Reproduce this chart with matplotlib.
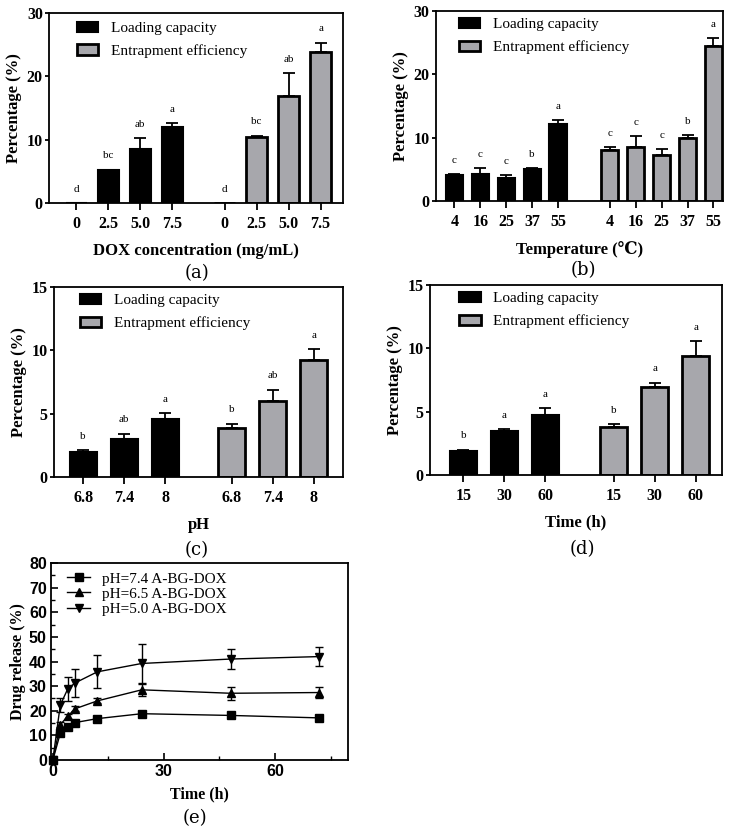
import matplotlib
matplotlib.use("Agg")
import matplotlib.pyplot as plt
import numpy as np

# ---- data ----
# (a) DOX concentration
dox_labels = ["0", "2.5", "5.0", "7.5"]
dox_lc = [0, 5.15, 8.45, 11.95]
dox_lc_err = [0, 0.1, 1.8, 0.65]
dox_lc_sig = ["d", "bc", "ab", "a"]
dox_ee = [0, 10.4, 16.9, 23.8]
dox_ee_err = [0, 0.25, 3.6, 1.5]
dox_ee_sig = ["d", "bc", "ab", "a"]

# (b) temperature
temp_labels = ["4", "16", "25", "37", "55"]
temp_lc = [4.1, 4.3, 3.7, 5.0, 12.2]
temp_lc_err = [0.15, 0.85, 0.4, 0.2, 0.6]
temp_lc_sig = ["c", "c", "c", "b", "a"]
temp_ee = [8.1, 8.5, 7.3, 9.9, 24.4]
temp_ee_err = [0.35, 1.7, 0.85, 0.5, 1.3]
temp_ee_sig = ["c", "c", "c", "b", "a"]

# (c) pH
ph_labels = ["6.8", "7.4", "8"]
ph_lc = [1.95, 3.0, 4.6]
ph_lc_err = [0.15, 0.42, 0.45]
ph_lc_sig = ["b", "ab", "a"]
ph_ee = [3.85, 6.0, 9.2]
ph_ee_err = [0.35, 0.9, 0.9]
ph_ee_sig = ["b", "ab", "a"]

# (d) time
time_labels = ["15", "30", "60"]
time_lc = [1.9, 3.47, 4.7]
time_lc_err = [0.1, 0.15, 0.58]
time_lc_sig = ["b", "a", "a"]
time_ee = [3.8, 6.95, 9.4]
time_ee_err = [0.23, 0.34, 1.15]
time_ee_sig = ["b", "a", "a"]

# (e) release
rel_time = [0, 2, 4, 6, 12, 24, 48, 72]
rel_74 = [0, 10.8, 13.3, 15.2, 16.8, 18.8, 18.1, 17.1]
rel_74_err = [0, 0.6, 0.6, 0.6, 0.6, 0.7, 0.6, 0.6]
rel_65 = [0, 14.3, 17.8, 20.8, 24.0, 28.5, 27.1, 27.4]
rel_65_err = [0, 1.0, 1.0, 1.0, 1.0, 2.5, 2.6, 2.1]
rel_50 = [0, 22.3, 28.8, 31.3, 35.8, 39.2, 41.0, 42.0]
rel_50_err = [0, 3.0, 5.0, 5.8, 6.7, 8.0, 3.9, 4.0]

SERIF = ["Liberation Serif", "DejaVu Serif"]
SANS = ["Liberation Sans", "DejaVu Sans"]
GREY = "#a7a7ac"

W, H = 733, 835


def px_axes(fig, left, top, right, bottom):
    # axes from pixel box (origin top-left)
    return fig.add_axes([left / W, 1 - bottom / H, (right - left) / W, (bottom - top) / H])


def bar_panel(ax, labels, lc, lc_err, lc_sig, ee, ee_err, ee_sig,
              gap, xlim, ymax, ystep, xlabel, legend_xy):
    n = len(labels)
    x1 = np.arange(n)
    x2 = x1 + (n - 1) + gap
    ax.bar(x1, lc, width=0.66, color="black", edgecolor="black", linewidth=1.5,
           label="Loading capacity", zorder=2)
    ax.bar(x2, ee, width=0.66, color=GREY, edgecolor="black", linewidth=2.0,
           label="Entrapment efficiency", zorder=2)

    for xs, vals, errs, sig in [(x1, lc, lc_err, lc_sig), (x2, ee, ee_err, ee_sig)]:
        vals = np.array(vals, dtype=float)
        errs = np.array(errs, dtype=float)
        keep = vals > 0
        ax.errorbar(xs[keep], vals[keep], yerr=[np.zeros(keep.sum()), errs[keep]],
                    fmt="none", ecolor="black", elinewidth=1.3, capsize=4,
                    capthick=1.3, zorder=1)
        for x, v, e, s in zip(xs, vals, errs, sig):
            ax.annotate(s, (x, v + e), xytext=(0, 10), textcoords="offset points",
                        ha="center", va="center", fontsize=8, family=SERIF)

    ax.set_xlim(*xlim)
    ax.set_ylim(0, ymax)
    ax.set_yticks(np.arange(0, ymax + 0.1, ystep))
    ax.set_xticks(np.concatenate([x1, x2]))
    ax.set_xticklabels(labels + labels)
    for lab in ax.get_xticklabels() + ax.get_yticklabels():
        lab.set_fontfamily(SERIF)
        lab.set_fontweight("bold")
        lab.set_fontsize(11.5)
    ax.tick_params(axis="x", direction="out", length=5, width=1.3, pad=4)
    ax.tick_params(axis="y", direction="out", length=3, width=1.3, pad=1.5)
    for sp in ax.spines.values():
        sp.set_linewidth(1.3)
    ax.set_ylabel("Percentage (%)", family=SERIF, fontweight="bold", fontsize=12, labelpad=3)
    ax.set_xlabel(xlabel, family=SERIF, fontweight="bold", fontsize=12, labelpad=8)
    ax.legend(loc="upper left", bbox_to_anchor=legend_xy, frameon=False,
              prop={"family": SERIF, "size": 11}, handlelength=1.4, handleheight=0.65,
              handletextpad=0.8, labelspacing=0.6, borderpad=0, borderaxespad=0)


fig = plt.figure(figsize=(W / 100, H / 100), dpi=100)

ax_a = px_axes(fig, 49, 13, 343, 203)
bar_panel(ax_a, dox_labels, dox_lc, dox_lc_err, dox_lc_sig, dox_ee, dox_ee_err, dox_ee_sig,
          gap=1.63, xlim=(-0.85, 8.33), ymax=30, ystep=10,
          xlabel="DOX concentration (mg/mL)", legend_xy=(0.095, 0.955))

ax_b = px_axes(fig, 436, 11, 723, 201)
bar_panel(ax_b, temp_labels, temp_lc, temp_lc_err, temp_lc_sig, temp_ee, temp_ee_err, temp_ee_sig,
          gap=2.0, xlim=(-0.71, 10.37), ymax=30, ystep=10,
          xlabel="Temperature (\u2103)", legend_xy=(0.08, 0.965))

ax_c = px_axes(fig, 54, 287, 343, 477)
bar_panel(ax_c, ph_labels, ph_lc, ph_lc_err, ph_lc_sig, ph_ee, ph_ee_err, ph_ee_sig,
          gap=1.62, xlim=(-0.71, 6.33), ymax=15, ystep=5,
          xlabel="pH", legend_xy=(0.09, 0.965))

ax_d = px_axes(fig, 430, 285, 722, 475)
bar_panel(ax_d, time_labels, time_lc, time_lc_err, time_lc_sig, time_ee, time_ee_err, time_ee_sig,
          gap=1.66, xlim=(-0.81, 6.3), ymax=15, ystep=5,
          xlabel="Time (h)", legend_xy=(0.1, 0.965))

# (e) drug release curves
ax_e = px_axes(fig, 51, 563, 348, 760)
series = [
    (rel_74, rel_74_err, "s", "pH=7.4 A-BG-DOX"),
    (rel_65, rel_65_err, "^", "pH=6.5 A-BG-DOX"),
    (rel_50, rel_50_err, "v", "pH=5.0 A-BG-DOX"),
]
for vals, errs, mk, lab in series:
    ax_e.errorbar(rel_time, vals, yerr=errs, fmt="none", ecolor="black",
                  elinewidth=1.0, capsize=3, capthick=1.0, zorder=2, clip_on=False)
    ax_e.plot(rel_time, vals, color="black", lw=1.0, marker=mk, markersize=6,
              label=lab, zorder=3, clip_on=False)
ax_e.set_xlim(-0.5, 79.7)
ax_e.set_ylim(0, 80)
ax_e.set_xticks([0, 30, 60])
ax_e.set_xticks([15, 45, 75], minor=True)
ax_e.set_yticks(np.arange(0, 81, 10))
ax_e.set_yticks(np.arange(5, 80, 10), minor=True)
ax_e.tick_params(which="major", direction="in", length=5, width=1.2, pad=3)
ax_e.tick_params(which="minor", direction="in", length=3, width=1.0)
for lab in ax_e.get_xticklabels() + ax_e.get_yticklabels():
    lab.set_fontfamily(SANS)
    lab.set_fontweight("bold")
    lab.set_fontsize(11.5)
for sp in ax_e.spines.values():
    sp.set_linewidth(1.3)
ax_e.set_ylabel("Drug release (%)", family=SERIF, fontweight="bold", fontsize=11.5, labelpad=2)
ax_e.set_xlabel("Time (h)", family=SERIF, fontweight="bold", fontsize=11.5, labelpad=5)
ax_e.legend(loc="upper left", bbox_to_anchor=(0.055, 0.955), frameon=False,
            prop={"family": SERIF, "size": 11}, handlelength=1.5, handletextpad=0.8,
            labelspacing=0.1, borderpad=0, borderaxespad=0)

# panel letters
for txt, x, y in [("(a)", 197, 273), ("(b)", 583, 270), ("(c)", 197, 550),
                  ("(d)", 582, 549), ("(e)", 195, 818)]:
    fig.text(x / W, 1 - y / H, txt, ha="center", va="center", fontsize=13,
             family=["DejaVu Serif"])

fig.savefig("out.png", dpi=100)
